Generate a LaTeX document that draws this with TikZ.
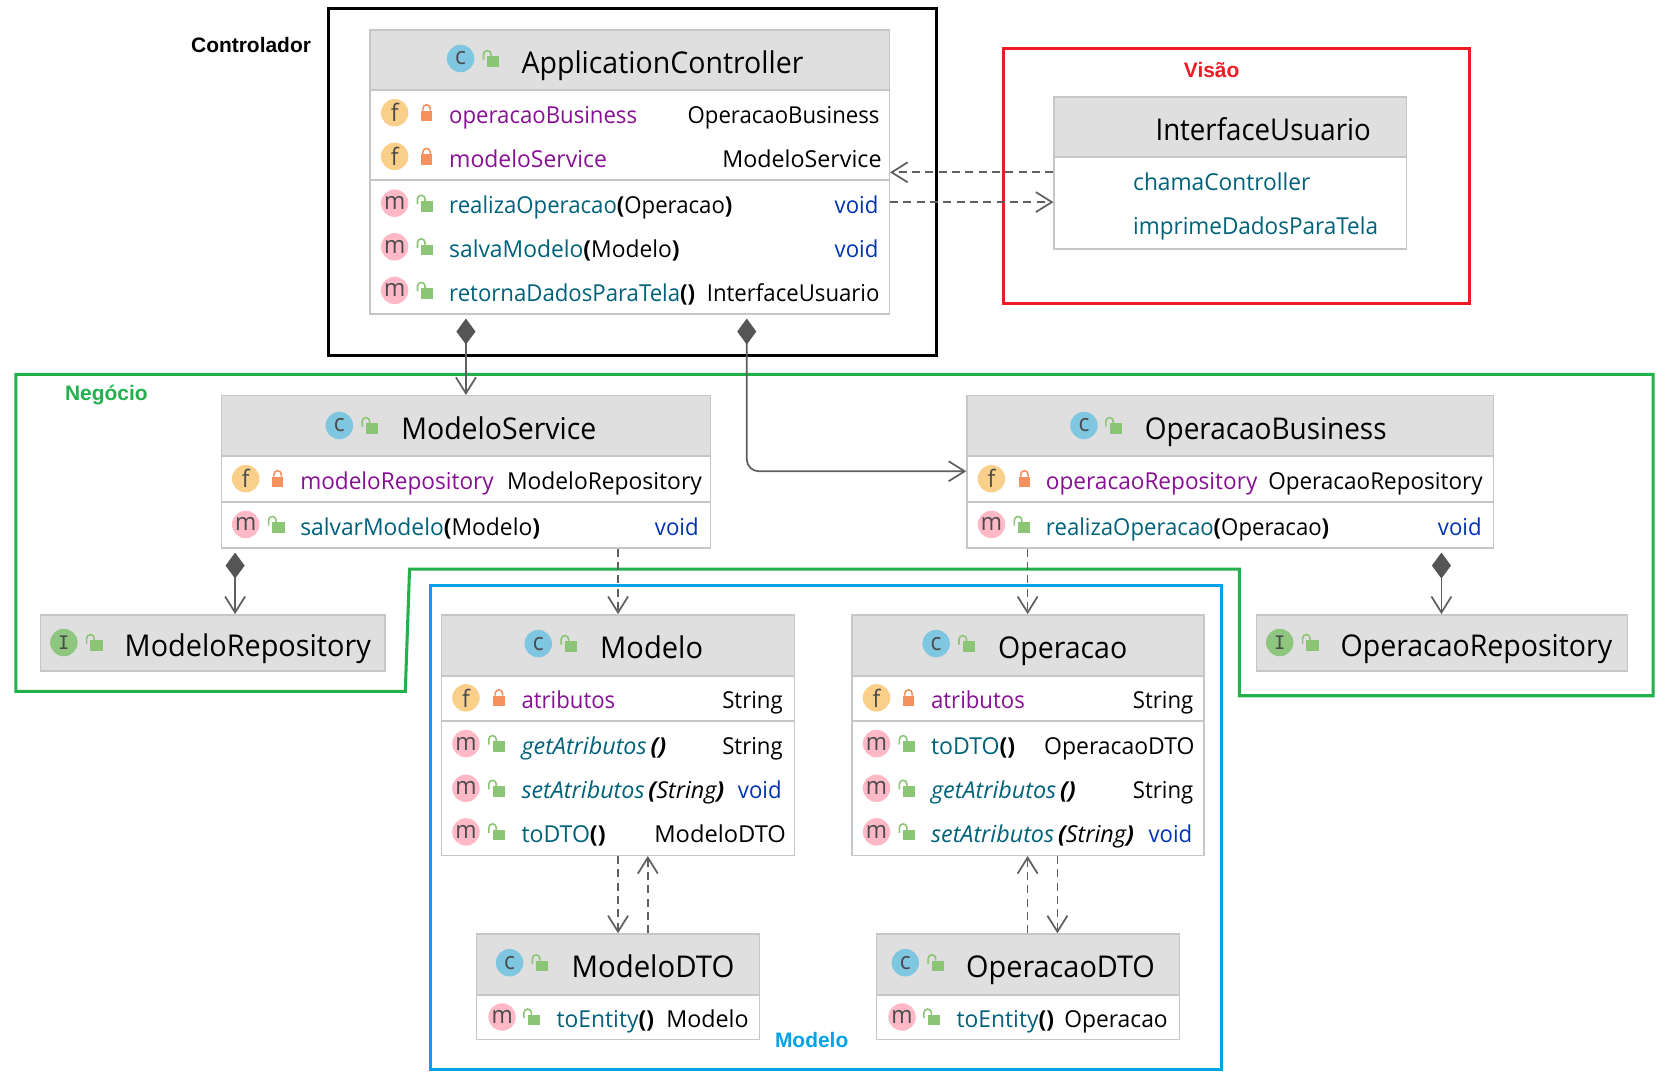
\documentclass[tikz,border=0pt]{standalone}
\usepackage{fontspec}
\setmainfont{Open Sans}[FakeStretch=0.95]
\newfontfamily\itfam{Open Sans}[FakeStretch=1.0]
\newfontfamily\labelfont{Liberation Sans}
\newfontfamily\monof{DejaVu Sans Mono}
\usetikzlibrary{arrows.meta,fit,shapes.geometric}
\definecolor{hdr}{HTML}{DFDFDF}
\definecolor{bord}{HTML}{C6C6C6}
\definecolor{fieldc}{HTML}{871094}
\definecolor{methc}{HTML}{00627A}
\definecolor{voidc}{HTML}{0033B3}
\definecolor{ilc}{HTML}{7FC6E0}
\definecolor{iff}{HTML}{F9CF8A}
\definecolor{imm}{HTML}{FFB8C6}
\definecolor{iii}{HTML}{8FC67F}
\definecolor{lko}{HTML}{F5905F}
\definecolor{lkg}{HTML}{8CC575}
\definecolor{glyph}{HTML}{4A4A4A}
\definecolor{conn}{HTML}{5F5F5F}
\definecolor{dia}{HTML}{555555}
\definecolor{redf}{HTML}{ED1C24}
\definecolor{greenf}{HTML}{22B14C}
\definecolor{bluef}{HTML}{00A2E8}
\tikzset{
  x=0.79785pt,y=-0.79785pt,
  umlbox/.style={draw=bord,line width=1.1pt,inner sep=0pt,fill=white},
  headfill/.style={fill=hdr},
  sepline/.style={draw=bord,line width=1.5pt},
  ticon/.style={circle,inner sep=0pt,minimum size=20.6pt,text=glyph,font=\fontsize{18}{18}\selectfont},
  cicon/.style={ticon,fill=ilc},
  ficon/.style={ticon,fill=iff},
  micon/.style={ticon,fill=imm},
  iicon/.style={ticon,fill=iii,font=\monof\fontsize{14}{14}\selectfont},
  titletext/.style={anchor=base west,inner sep=0pt,font=\fontsize{22.5}{24}\selectfont},
  rowtext/.style={anchor=base west,inner sep=0pt,font=\fontsize{17.5}{20}\selectfont},
  typetext/.style={anchor=base east,inner sep=0pt,font=\fontsize{17.5}{20}\selectfont},
  areatext/.style={inner sep=0pt,font=\labelfont\bfseries\fontsize{15.7}{17}\selectfont},
  frameb/.style={draw,line width=2.3pt},
  dep/.style={draw=conn,line width=1.3pt,dash pattern=on 6pt off 4pt,arrows={-Straight Barb[length=12pt,width=15pt,line width=1.3pt,color=conn]}},
  comp/.style={draw=conn,line width=1.3pt,shorten <=3pt,arrows={Diamond[length=19.5pt,width=14.3pt,color=dia,fill=dia]-Straight Barb[length=12pt,width=15pt,line width=1.3pt,color=conn]}},
}
\newcommand{\sx}[2]{\scalebox{#1}[1]{#2}}
\newcommand{\fld}[1]{\textcolor{fieldc}{#1}}
\newcommand{\mth}[1]{\textcolor{methc}{#1}}
\newcommand{\prm}[1]{\textbf{#1}}
\newcommand{\ita}[1]{{\itfam\itshape #1}}
\newcommand{\vd}{\textcolor{voidc}{void}}
% closed lock at centre
\newcommand{\lockc}[2]{%
  \begin{scope}[shift={(#1,#2)}]
    \fill[lko] (-5.5,-2) rectangle (5.5,8);
    \draw[lko,line width=1.2pt] (-3.5,-2) -- (-3.5,-4) arc[start angle=180,end angle=0,radius=2.8pt] -- (3.5,-2);
  \end{scope}}
% open lock at centre
\newcommand{\locko}[2]{%
  \begin{scope}[shift={(#1,#2)}]
    \fill[lkg] (-4,-2) rectangle (7.5,8);
    \draw[lkg,line width=1.2pt] (-7.5,1) -- (-7.5,-4) arc[start angle=180,end angle=0,radius=2.8pt] -- (-0.5,-2);
  \end{scope}}
% box: name x1 y1 x2 y2 headerbottom
\newcommand{\boxhead}[6]{%
  \node[umlbox,fit={(#2,#3)(#4,#5)}] (#1) {};
  \fill[headfill] (#2,#3) rectangle (#4,#6);
  \draw[sepline] (#2,#6) -- (#4,#6);
  \draw[draw=bord,line width=1.1pt] (#2,#3) rectangle (#4,#5);}
\newcommand{\boxtitle}[9]{%
  \node[#2] (#1i) at (#4,#5) {#3};
  \locko{#6}{#5}
  \node[titletext] (#1t) at (#7,#8) {#9};}
% field row: id iconx lockx textx base label rightx type
\newcommand{\frow}[8]{%
  \node[ficon] (#1i) at (#2,#5-10) {f};
  \lockc{#3}{#5-10}
  \node[rowtext] (#1t) at (#4,#5) {#6};
  \node[typetext] (#1r) at (#7,#5) {#8};}
\newcommand{\mrow}[8]{%
  \node[micon] (#1i) at (#2,#5-10) {m};
  \locko{#3}{#5-10}
  \node[rowtext] (#1t) at (#4,#5) {#6};
  \node[typetext] (#1r) at (#7,#5) {#8};}
\begin{document}
\begin{tikzpicture}
\useasboundingbox (0,0) rectangle (1568,1018);
\fill[white] (0,0) rectangle (1568,1018);
% area frames
\draw[frameb,black] (309,8) rectangle (880,334);
\draw[frameb,redf] (943,46) rectangle (1381,285);
\draw[frameb,greenf] (15,352) -- (1554,352) -- (1554,654) -- (1165,654) -- (1165,535) -- (385,535) -- (381,650) -- (15,650) -- cycle;
\draw[frameb,bluef] (405,550) rectangle (1148,1005);
\node[areatext,text=black] (lblC) at (236,42) {Controlador};
\node[areatext,text=redf] (lblV) at (1139,66) {Visão};
\node[areatext,text=greenf] (lblN) at (100,371) {Negócio};
\node[areatext,text=bluef] (lblM) at (763,978) {Modelo};

% ApplicationController
\boxhead{ac}{348}{28}{836}{295}{85}
\draw[sepline] (348,169) -- (836,169);
\boxtitle{acH}{cicon}{c}{433}{55}{462}{490}{69}{ApplicationController}
\frow{acF}{371}{401}{422}{116}{\fld{operacaoBusiness}}{827}{OperacaoBusiness}
\frow{acG}{371}{401}{422}{157}{\sx{1.035}{\fld{modeloService}}}{829}{\sx{1.05}{ModeloService}}
\mrow{acM}{371}{400}{422}{201}{\mth{realizaOperacao}\prm{(}Operacao\prm{)}}{826}{\vd}
\mrow{acN}{371}{400}{422}{242}{\sx{1.03}{\mth{salvaModelo}\prm{(}Modelo\prm{)}}}{826}{\vd}
\mrow{acO}{371}{400}{422}{283}{\mth{retornaDadosParaTela}\prm{()}}{827}{InterfaceUsuario}

% InterfaceUsuario
\boxhead{iu}{991}{91}{1322}{234}{148}
\node[titletext] (iuT) at (1086,132) {\sx{0.97}{InterfaceUsuario}};
\node[rowtext] (iuA) at (1065,179) {\sx{1.025}{\mth{chamaController}}};
\node[rowtext] (iuB) at (1065,220) {\sx{1.015}{\mth{imprimeDadosParaTela}}};

% ModeloService
\boxhead{ms}{208}{372}{668}{515}{429}
\draw[sepline] (208,472) -- (668,472);
\boxtitle{msH}{cicon}{c}{319}{400}{348}{377}{413}{ModeloService}
\frow{msF}{231}{261}{282}{460}{\sx{1.02}{\fld{modeloRepository}}}{660}{\sx{1.03}{ModeloRepository}}
\mrow{msM}{231}{260}{282}{503}{\sx{1.03}{\mth{salvarModelo}\prm{(}Modelo\prm{)}}}{657}{\vd}

% OperacaoBusiness
\boxhead{ob}{909}{372}{1404}{515}{429}
\draw[sepline] (909,472) -- (1404,472);
\boxtitle{obH}{cicon}{c}{1019}{400}{1047}{1076}{413}{\sx{0.98}{OperacaoBusiness}}
\frow{obF}{932}{963}{983}{460}{\sx{1.02}{\fld{operacaoRepository}}}{1394}{\sx{1.015}{OperacaoRepository}}
\mrow{obM}{932}{961}{983}{503}{\mth{realizaOperacao}\prm{(}Operacao\prm{)}}{1393}{\vd}

% ModeloRepository
\boxhead{mr}{38}{578}{362}{631}{631}
\boxtitle{mrH}{iicon}{I}{60}{604}{89}{117}{617}{\sx{1.012}{ModeloRepository}}

% OperacaoRepository
\boxhead{or}{1181}{578}{1530}{631}{631}
\boxtitle{orH}{iicon}{I}{1203}{604}{1232}{1260}{617}{OperacaoRepository}

% Modelo
\boxhead{mo}{415}{578}{747}{804}{635}
\draw[sepline] (415,678) -- (747,678);
\boxtitle{moH}{cicon}{c}{506}{605}{535}{564}{619}{\sx{1.02}{Modelo}}
\frow{moF}{438}{469}{490}{666}{\fld{atributos}}{736}{String}
\mrow{moM}{438}{467}{490}{709}{\ita{\mth{getAtributos}\,\prm{()}}}{736}{String}
\mrow{moN}{438}{467}{490}{751}{\ita{\mth{setAtributos}\,\prm{(}String\prm{)}}}{735}{\vd}
\mrow{moO}{438}{467}{490}{792}{\sx{1.04}{\mth{toDTO}\prm{()}}}{739}{\sx{1.07}{ModeloDTO}}

% Operacao
\boxhead{op}{801}{578}{1132}{804}{635}
\draw[sepline] (801,678) -- (1132,678);
\boxtitle{opH}{cicon}{c}{880}{605}{909}{938}{619}{Operacao}
\frow{opF}{824}{854}{875}{666}{\fld{atributos}}{1122}{String}
\mrow{opM}{824}{853}{875}{709}{\sx{1.04}{\mth{toDTO}\prm{()}}}{1123}{\sx{1.035}{OperacaoDTO}}
\mrow{opN}{824}{853}{875}{751}{\ita{\mth{getAtributos}\,\prm{()}}}{1122}{String}
\mrow{opO}{824}{853}{875}{792}{\ita{\mth{setAtributos}\,\prm{(}String\prm{)}}}{1121}{\vd}

% ModeloDTO
\boxhead{md}{448}{878}{714}{977}{935}
\boxtitle{mdH}{cicon}{c}{479}{905}{508}{537}{919}{\sx{1.03}{ModeloDTO}}
\mrow{mdM}{472}{500}{523}{966}{\sx{1.03}{\mth{toEntity}\prm{()}}}{704}{\sx{1.05}{Modelo}}

% OperacaoDTO
\boxhead{od}{824}{878}{1109}{977}{935}
\boxtitle{odH}{cicon}{c}{851}{905}{880}{908}{919}{\sx{1.012}{OperacaoDTO}}
\mrow{odM}{848}{876}{899}{966}{\sx{1.03}{\mth{toEntity}\prm{()}}}{1098}{\sx{1.03}{Operacao}}

% connector guides
\coordinate (g1) at (438,0);
\coordinate (g2) at (702,443);
\coordinate (g3) at (581,0);
\coordinate (g4) at (966,0);
\coordinate (g5) at (221,0);
\coordinate (g6) at (1355,0);
\coordinate (g7) at (609,0);
\coordinate (g8) at (994,0);
\coordinate (h1) at (0,162);
\coordinate (h2) at (0,190);

\draw[dep] (iu.west |- h1) -- (ac.east |- h1);
\draw[dep] (ac.east |- h2) -- (iu.west |- h2);
\draw[comp] (ac.south -| g1) -- (ms.north -| g1);
\draw[comp,rounded corners=9pt] (ac.south -| g2) -- (g2) -- (ob.west |- g2);
\draw[comp] (ms.south -| g5) -- (mr.north -| g5);
\draw[comp] (ob.south -| g6) -- (or.north -| g6);
\draw[dep] (ms.south -| g3) -- (mo.north -| g3);
\draw[dep] (ob.south -| g4) -- (op.north -| g4);
\draw[dep] (mo.south -| g3) -- (md.north -| g3);
\draw[dep] (md.north -| g7) -- (mo.south -| g7);
\draw[dep] (od.north -| g4) -- (op.south -| g4);
\draw[dep] (op.south -| g8) -- (od.north -| g8);
\end{tikzpicture}
\end{document}
